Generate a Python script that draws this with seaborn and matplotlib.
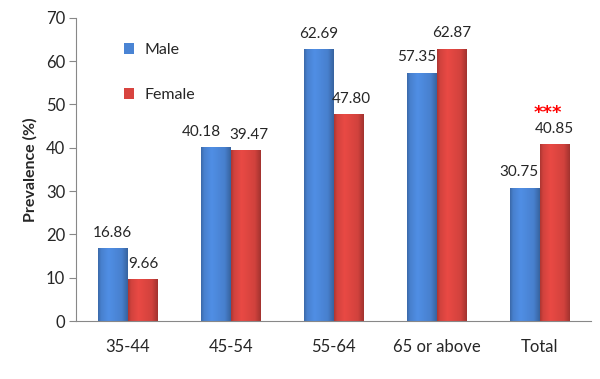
import numpy as np
import pandas as pd
import seaborn as sns
import matplotlib.pyplot as plt

sns.set_style('white')
plt.rcParams['font.family'] = ['Lato', 'DejaVu Sans']

# data
groups = ['35-44', '45-54', '55-64', '65 or above', 'Total']
male = [16.86, 40.18, 62.69, 57.35, 30.75]
female = [9.66, 39.47, 47.80, 62.87, 40.85]

df = pd.DataFrame({
    'Age': groups * 2,
    'Sex': ['Male'] * 5 + ['Female'] * 5,
    'Prevalence': male + female,
})

colors = {'Male': '#4A84D4', 'Female': '#D8443F'}

fig = plt.figure(figsize=(6, 3.79), dpi=100)
ax = fig.add_axes([0.127, 0.153, 0.858, 0.8])

sns.barplot(data=df, x='Age', y='Prevalence', hue='Sex', palette=colors,
            width=0.58, gap=0, ax=ax, saturation=1, linewidth=0)

# value labels (small sideways nudges, like Excel does to avoid overlaps)
nudge = {'Male': [0, -14, 0, -5, -6], 'Female': [1, 3, 3, 0, 0]}
for cont, sex in zip(ax.containers, ['Male', 'Female']):
    anns = ax.bar_label(cont, fmt='%.2f', padding=6, fontsize=11)
    for a, dx in zip(anns, nudge[sex]):
        a.xyann = (dx * 0.72, a.xyann[1])

# cylinder-ish shading on each bar
bar_patches = [p for cont in ax.containers for p in cont.patches]
for p in bar_patches:
    c = np.array(p.get_facecolor()[:3])
    t = np.linspace(0, 1, 60)
    k = np.interp(t, [0, 0.1, 0.35, 0.8, 1], [0.8, 0.97, 1.08, 0.97, 0.75])
    row = np.clip(c[None, :] * k[:, None], 0, 1)
    img = np.repeat(row[None, :, :], 2, axis=0)
    x0, y0 = p.get_x(), p.get_y()
    w, h = p.get_width(), p.get_height()
    im = ax.imshow(img, extent=[x0, x0 + w, y0, y0 + h], aspect='auto',
                   zorder=p.get_zorder() + 0.1, interpolation='bilinear')
    im.set_clip_path(p)

ax.set_xlim(-0.5, 4.5)
ax.set_ylim(0, 70)
ax.set_yticks(range(0, 71, 10))

# significance marker above Total
ax.text(4.08, 48.0, '***', color='red', ha='center', va='center', fontsize=13,
        fontweight='bold', family='DejaVu Sans')

ax.set_xlabel('')
ax.set_ylabel('Prevalence (%)', fontsize=11.5, fontweight='bold', labelpad=6)
ax.tick_params(axis='y', length=5, color='#888888', labelsize=12, pad=3, left=True)
ax.tick_params(axis='x', length=0, labelsize=12, pad=13)

sns.despine(ax=ax)
for s in ['left', 'bottom']:
    ax.spines[s].set_color('#888888')

ax.legend(loc='upper left', bbox_to_anchor=(0.065, 0.965), frameon=False,
          labelspacing=1.95, handlelength=0.65, handleheight=0.65,
          handletextpad=0.6, fontsize=11.5)

fig.savefig('out.png', dpi=100)
